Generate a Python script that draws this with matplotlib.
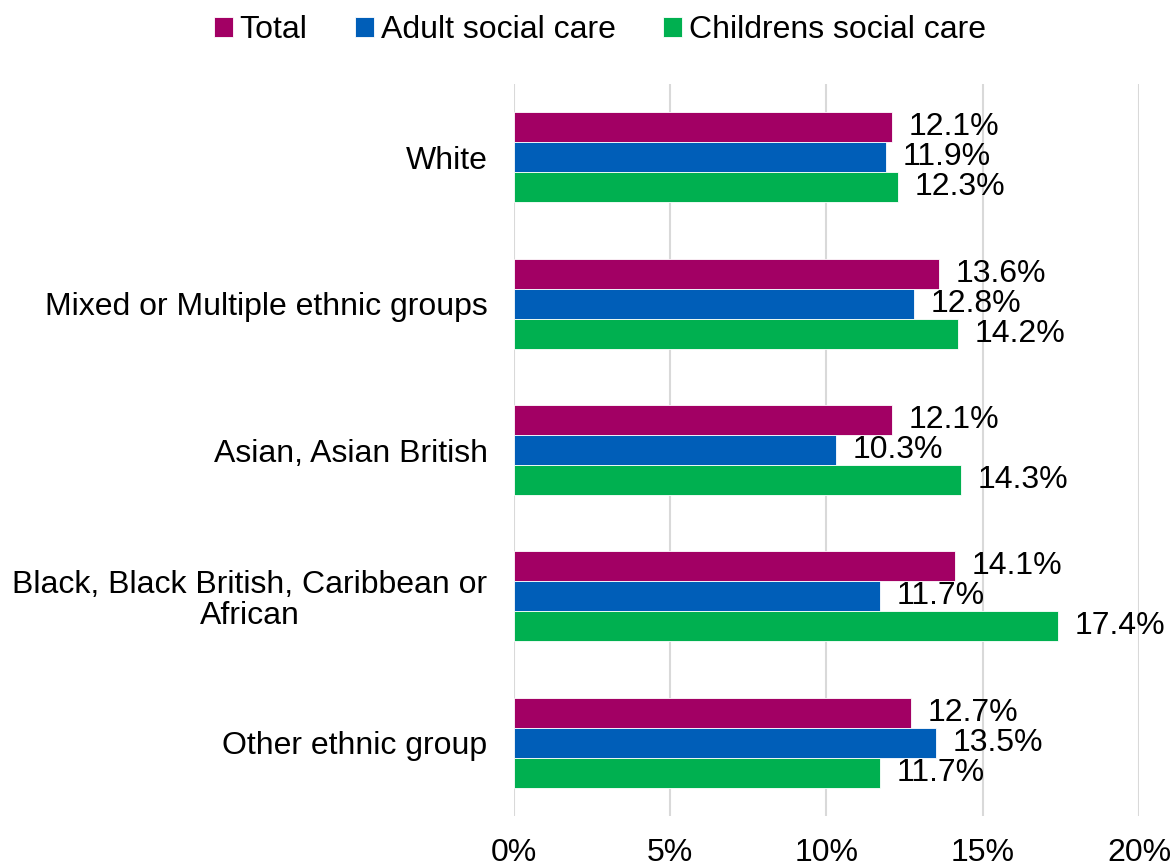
import matplotlib.pyplot as plt
import numpy as np

plt.rcParams['font.family'] = ['Liberation Sans', 'DejaVu Sans']

groups = ['White', 'Mixed or Multiple ethnic groups', 'Asian, Asian British',
          'Black, Black British, Caribbean or\nAfrican', 'Other ethnic group']
series = ['Total', 'Adult social care', 'Childrens social care']
total = [12.1, 13.6, 12.1, 14.1, 12.7]
adult = [11.9, 12.8, 10.3, 11.7, 13.5]
children = [12.3, 14.2, 14.3, 17.4, 11.7]
colors = ['#A20064', '#005EB8', '#00B050']

fs = 23

fig = plt.figure(figsize=(11.76, 8.68), dpi=100)
ax = fig.add_axes([0.437, 0.06, 0.5315, 0.843])

# three bars per group, Total on top
y = np.arange(len(groups))
h = 0.205
for i, (vals, name, c) in enumerate(zip([total, adult, children], series, colors)):
    pos = y + (i - 1) * h
    bars = ax.barh(pos, vals, height=h, color=c, label=name, edgecolor='white', linewidth=0.6)
    for b, v in zip(bars, vals):
        ax.annotate(f'{v:.1f}%', (v, b.get_y() + b.get_height() / 2),
                    xytext=(12, 0), textcoords='offset points',
                    va='center', ha='left', fontsize=fs)

ax.set_ylim(len(groups) - 0.5, -0.5)
ax.set_xlim(0, 20)
ax.set_xticks([0, 5, 10, 15, 20])
ax.set_xticklabels(['0%', '5%', '10%', '15%', '20%'], fontsize=fs)
ax.set_yticks(y)
ax.set_yticklabels(groups, fontsize=fs, multialignment='center', linespacing=1.05)
ax.tick_params(axis='both', length=0)
ax.tick_params(axis='x', pad=16)
ax.tick_params(axis='y', pad=19)
for s in ax.spines.values():
    s.set_visible(False)
ax.grid(axis='x', color='#D9D9D9', linewidth=1.5)
ax.set_axisbelow(True)

fig.legend(loc='center', bbox_to_anchor=(0.51, 0.965), ncol=3,
           frameon=False, fontsize=fs, handlelength=0.6, handleheight=0.6,
           handletextpad=0.2, columnspacing=1.5)

fig.savefig('out.png', dpi=100)
